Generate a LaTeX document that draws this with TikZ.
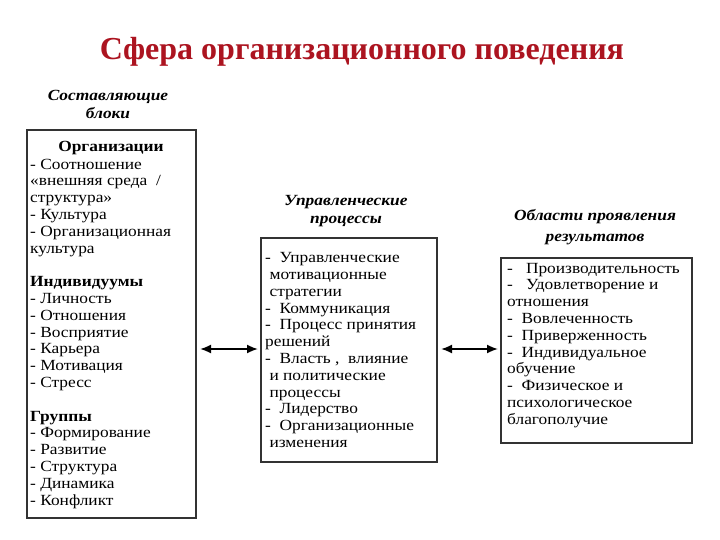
\documentclass[tikz,border=0pt]{standalone}
\usepackage{fontspec}
\usetikzlibrary{arrows.meta}
\setmainfont{Liberation Serif}
\newfontfamily\widefont[FakeStretch=1.12]{Liberation Serif}
\definecolor{titlered}{RGB}{172,20,32}
\begin{document}
\begin{tikzpicture}[x=1pt,y=-1pt,
  box/.style={draw=black!80, line width=1.3pt},
  body/.style={anchor=north west, align=left, font=\widefont\fontsize{15.5}{16.8}\selectfont, inner sep=0pt},
  head/.style={anchor=north, align=center, inner sep=0pt},
  link/.style={line width=1.8pt, {Latex[length=11pt,width=9pt]}-{Latex[length=11pt,width=9pt]}}]
\useasboundingbox (0,0) rectangle (720,540);
\node[font=\fontsize{32}{34}\selectfont\bfseries, text=titlered, anchor=base] (title) at (362,60) {Сфера организационного поведения};

\node[head, font=\widefont\fontsize{15.5}{18}\selectfont\bfseries\itshape] (hl) at (108,87.4) {\strut Составляющие\\блоки};
\node[head, font=\widefont\fontsize{15.5}{18}\selectfont\bfseries\itshape] (hm) at (346,192.4) {\strut Управленческие\\процессы};
\node[head, font=\widefont\fontsize{15.5}{21}\selectfont\bfseries\itshape] (hr) at (595,205.3) {\strut Области проявления\\результатов};

\draw[box] (27,130) rectangle (196,518);
\coordinate (L) at (196,349);
\node[anchor=base, inner sep=0pt, font=\widefont\fontsize{15.5}{16.8}\selectfont\bfseries] (org) at (111,152) {Организации};
\node[body] (orgt) at (30,157.2) {\strut - Соотношение\\«внешняя среда \ /\\структура»\\- Культура\\- Организационная\\культура\\[16.8pt]\textbf{Индивидуумы}\\- Личность\\- Отношения\\- Восприятие\\- Карьера\\- Мотивация\\- Стресс\\[16.8pt]\textbf{Группы}\\- Формирование\\- Развитие\\- Структура\\- Динамика\\- Конфликт};

\draw[box] (261,238) rectangle (437,462);
\coordinate (ML) at (261,349);
\coordinate (MR) at (437,349);
\node[body] (mt) at (265,250.7) {\strut - \ Управленческие\\\ мотивационные\\\ стратегии\\- \ Коммуникация\\- \ Процесс принятия\\решений\\- \ Власть , \ влияние\\\ и политические\\\ процессы\\- \ Лидерство\\- \ Организационные\\\ изменения};

\draw[box] (501,258) rectangle (692,443);
\coordinate (R) at (501,349);
\node[body] (rt) at (507,261.2) {\strut - \ \ Производительность\\- \ \ Удовлетворение и\\отношения\\- \ Вовлеченность\\- \ Приверженность\\- \ Индивидуальное\\обучение\\- \ Физическое и\\психологическое\\благополучие};

\draw[link] ([xshift=4pt]L) -- ([xshift=-3pt]ML);
\draw[link] ([xshift=4pt]MR) -- ([xshift=-3pt]R);
\end{tikzpicture}
\end{document}
